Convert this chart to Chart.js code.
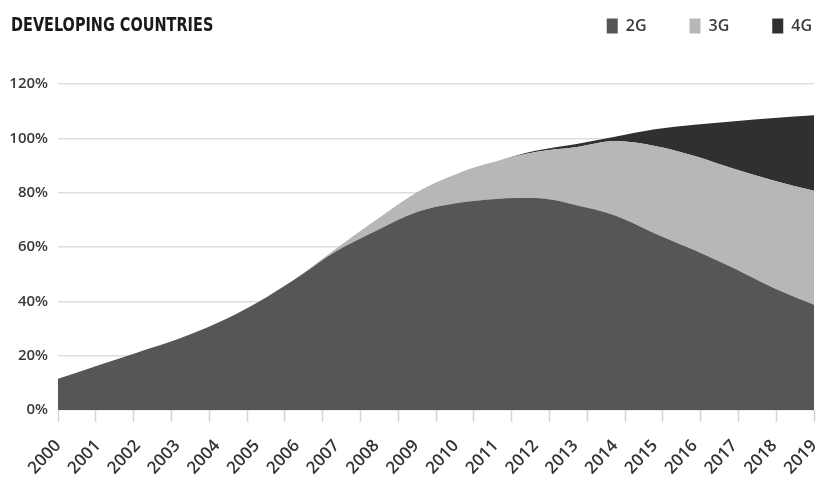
<!DOCTYPE html>
<html>
<head>
<meta charset="utf-8">
<script src="https://cdn.jsdelivr.net/npm/chart.js@4/dist/chart.umd.min.js"></script>
<style>
  html, body { margin: 0; padding: 0; background: #fff; }
  #wrap { position: relative; width: 818px; height: 481px; }
  #title {
    position: absolute; left: 11px; top: 13px;
    font-family: "Liberation Sans Narrow", "DejaVu Sans Condensed", "Liberation Sans", sans-serif;
    font-stretch: condensed;
    font-weight: bold; font-size: 19px; color: #1a1a1a;
    transform: scaleX(0.846); transform-origin: left top; white-space: nowrap;
  }
</style>
</head>
<body>
<div id="wrap">
  <canvas id="chart" width="818" height="481"></canvas>
  <div id="title">DEVELOPING COUNTRIES</div>
</div>
<script>
// Mobile subscriptions per 100 people, by network generation
const years = ['2000','2001','2002','2003','2004','2005','2006','2007','2008','2009',
               '2010','2011','2012','2013','2014','2015','2016','2017','2018','2019'];
const share2G = [11.5, 16.4, 21.2, 26.0, 32.0, 39.5, 48.6, 58.5, 66.0, 72.8,
                 76.1, 77.7, 78.0, 75.5, 71.6, 65.0, 58.8, 52.1, 44.8, 38.7];
const share3G = [0, 0, 0, 0, 0, 0, 0, 1.0, 4.0, 7.2,
                 10.7, 13.8, 17.0, 21.2, 27.4, 32.2, 34.7, 36.6, 39.6, 42.0];
const share4G = [0, 0, 0, 0, 0, 0, 0, 0, 0, 0,
                 0, 0, 0.4, 1.1, 1.6, 6.1, 11.5, 17.6, 23.1, 27.8];
const yTicks = [0, 20, 40, 60, 80, 100, 120];

const fontFamily = "'Open Sans', 'Noto Sans', sans-serif";

// Nudges the legend row up and right so it shares the title's line
const legendRow = {
  id: 'legendRow',
  afterLayout(chart) {
    const lg = chart.legend;
    if (!lg) return;
    lg.left += 41; lg.right += 41;
    lg.top -= 40; lg.bottom -= 40;
  }
};

function series(label, data, color) {
  return {
    label, data,
    xAxisID: 'x',
    yAxisID: 'y',
    backgroundColor: color,
    borderColor: 'rgba(0,0,0,0)',
    borderWidth: 0,
    pointRadius: 0,
    fill: label === '2G' ? 'origin' : '-1',
    cubicInterpolationMode: 'monotone'
  };
}

new Chart(document.getElementById('chart'), {
  type: 'line',
  data: {
    labels: years,
    datasets: [
      series('2G', share2G, '#565656'),
      series('3G', share3G, '#b7b7b7'),
      series('4G', share4G, '#303030')
    ]
  },
  plugins: [legendRow],
  options: {
    responsive: false,
    animation: false,
    layout: { padding: { left: 8, right: 4, top: 15, bottom: 2 } },
    plugins: {
      tooltip: { enabled: false },
      title: { display: false },
      legend: {
        position: 'top',
        align: 'end',
        labels: {
          boxWidth: 11, boxHeight: 15, padding: 43,
          color: '#3a3a3a',
          font: { family: fontFamily, size: 16, weight: '600' }
        }
      }
    },
    scales: {
      x: {
        type: 'category',
        position: 'bottom',
        weight: 1,
        offset: false,
        border: { display: false },
        grid: { display: false, drawTicks: false },
        afterFit(scale) { scale.paddingLeft = 0; scale.paddingRight = 0; scale.height = 57; },
        ticks: {
          autoSkip: false, maxRotation: 47, minRotation: 47,
          padding: 14, color: '#333',
          font: { family: fontFamily, size: 17, weight: '600' }
        }
      },
      xt: {
        type: 'linear',
        position: 'bottom',
        min: 0, max: 20,
        weight: 0,
        border: { display: false },
        grid: { drawOnChartArea: false, drawTicks: true, tickLength: 12, color: '#d4d4d4', tickWidth: 1.5 },
        ticks: { display: false, stepSize: 1 }
      },
      y: {
        stacked: true,
        min: 0, max: 120,
        afterBuildTicks(scale) { scale.ticks = yTicks.map(v => ({ value: v })); },
        afterFit(scale) { scale.width = 50; },
        border: { display: false },
        grid: { color: '#dedede', lineWidth: 1.5, drawTicks: false },
        ticks: {
          padding: 10, color: '#3a3a3a',
          font: { family: fontFamily, size: 15, weight: '600' },
          callback: v => v + '%'
        }
      }
    }
  }
});
</script>
</body>
</html>
